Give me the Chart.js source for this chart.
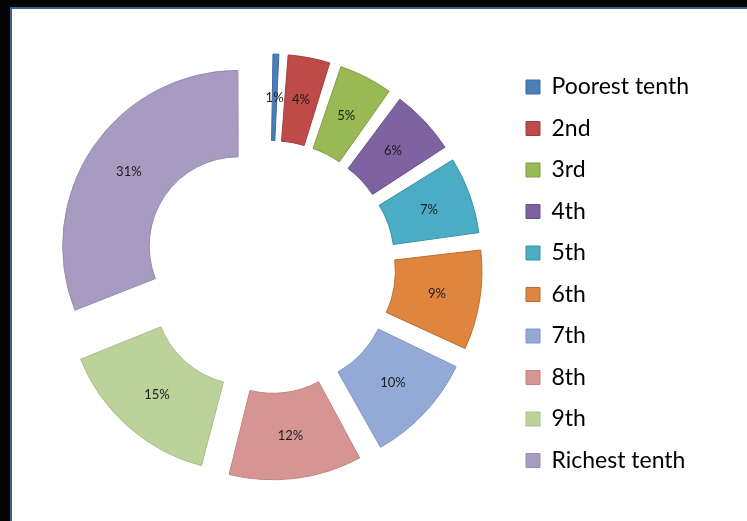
<!DOCTYPE html>
<html>
<head>
<meta charset="utf-8">
<script src="https://cdn.jsdelivr.net/npm/chart.js@4"></script>
<style>
  html, body { margin: 0; padding: 0; background: #050505; }
  body { width: 747px; height: 521px; position: relative; overflow: hidden; }
  #panel { position: absolute; left: 10px; top: 7px; width: 800px; height: 600px; background: #fff; border: 2px solid #3b6090; }
  #canvas { position: absolute; left: 0; top: 0; }
</style>
</head>
<body>
<div id="panel"></div>
<canvas id="canvas" width="747" height="521"></canvas>
<script>
const categories = ["Poorest tenth", "2nd", "3rd", "4th", "5th", "6th", "7th", "8th", "9th", "Richest tenth"];
const shares = [1, 4, 5, 6, 7, 9, 10, 12, 15, 31];
const fills = ["#4a7ebb", "#be4b48", "#98b954", "#7f62a1", "#4aacc5", "#e0853d", "#94aad6", "#d69593", "#bbd29a", "#a89bc1"];
const edges = ["#3d6aa0", "#a03e3b", "#7f9c45", "#6a5187", "#3d91a6", "#b86c30", "#8296c0", "#c08482", "#a7bd88", "#968ab0"];

// explosion distance (px) each slice is pushed out from the centre
const explode = 40;

// chart.js moves an arc by offset/4 and also grows its radius by offset/4*fix,
// so pick each offset so the total push is the same for every slice
function fixOf(v) {
  const c = Math.PI * 2 * v / 100;
  return 1 - Math.sin(Math.min(Math.PI, c));
}
const offsets = shares.map(v => 4 * explode / (1 + fixOf(v)));

const sliceLabels = {
  id: "sliceLabels",
  afterDatasetsDraw(chart) {
    const ctx = chart.ctx;
    const meta = chart.getDatasetMeta(0);
    ctx.save();
    ctx.font = "13px Lato";
    ctx.fillStyle = "#1c1c1c";
    ctx.textAlign = "center";
    ctx.textBaseline = "middle";
    meta.data.forEach((arc, i) => {
      const p = arc.getProps(["x", "y", "startAngle", "endAngle", "innerRadius", "outerRadius"]);
      const a = (p.startAngle + p.endAngle) / 2;
      const r = (p.innerRadius + p.outerRadius) / 2 + explode;
      ctx.fillText(shares[i] + "%", p.x + Math.cos(a) * r, p.y + Math.sin(a) * r);
    });
    ctx.restore();
  }
};

new Chart(document.getElementById("canvas").getContext("2d"), {
  type: "doughnut",
  data: {
    labels: categories,
    datasets: [{
      data: shares,
      backgroundColor: fills,
      borderColor: edges,
      borderWidth: 1,
      offset: offsets,
      hoverOffset: 0
    }]
  },
  options: {
    responsive: false,
    devicePixelRatio: 1,
    animation: false,
    radius: 173,
    cutout: "50%",
    layout: { padding: { left: 31, right: 48, top: 13, bottom: 0 } },
    plugins: {
      tooltip: { enabled: false },
      legend: {
        position: "right",
        align: "start",
        title: { display: true, text: "", font: { size: 12 }, padding: { top: 29.6, bottom: 0 } },
        labels: {
          boxWidth: 14,
          boxHeight: 14,
          padding: 18.5,
          color: "#000",
          font: { family: "Lato", size: 23 }
        }
      }
    }
  },
  plugins: [sliceLabels]
});
</script>
</body>
</html>
